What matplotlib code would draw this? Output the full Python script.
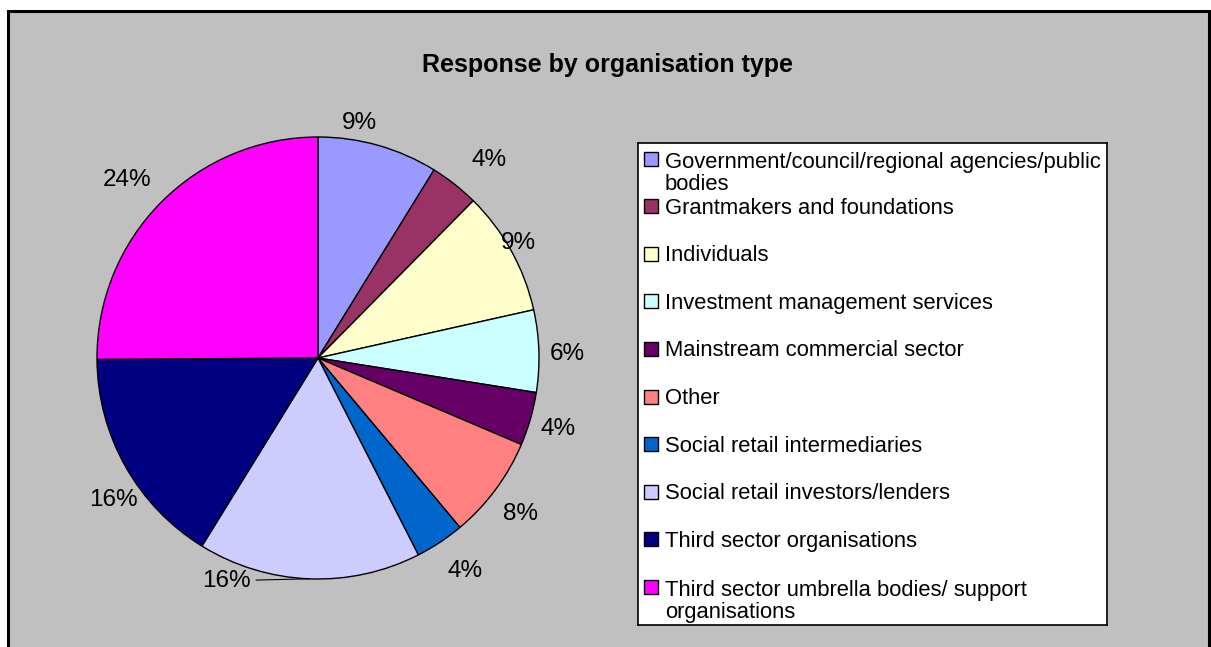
import numpy as np
import matplotlib
matplotlib.use("Agg")
import matplotlib.pyplot as plt
from matplotlib.patches import Rectangle

plt.rcParams['font.family'] = ['Liberation Sans', 'DejaVu Sans']

# data (share of pie, in %)
categories = ["Government/council/regional agencies/public\nbodies",
              "Grantmakers and foundations",
              "Individuals",
              "Investment management services",
              "Mainstream commercial sector",
              "Other",
              "Social retail intermediaries",
              "Social retail investors/lenders",
              "Third sector organisations",
              "Third sector umbrella bodies/ support\norganisations"]
shares = [8.8, 3.6, 9.1, 6.0, 3.9, 7.5, 3.6, 16.3, 16.1, 25.1]
pct_text = ["9%", "4%", "9%", "6%", "4%", "8%", "4%", "16%", "16%", "24%"]
colors = ["#9999FF", "#993366", "#FFFFCC", "#CCFFFF", "#660066",
          "#FF8080", "#0066CC", "#CCCCFF", "#000080", "#FF00FF"]

# label placement tweaks (degrees clockwise, radius in pie radii)
lab_shift = [-6, 2.3, -1.3, 0.4, 0, 0.5, -1.4, 20.3, -5, -1.5]
lab_r = [1.09, 1.19, 1.05, 1.13, 1.13, 1.15, 1.16, 1.08, 1.12, 1.19]

W, H = 1211, 647
fig = plt.figure(figsize=(W / 100, H / 100), dpi=100)
fig.patch.set_facecolor("white")

# background panel, pixel coords
bg = fig.add_axes([0, 0, 1, 1])
bg.set_xlim(0, W)
bg.set_ylim(H, 0)
bg.axis("off")
bg.add_patch(Rectangle((8, 11), 1201, 660, facecolor="#C0C0C0",
                       edgecolor="black", lw=2.2))
bg.text(608, 72.3, "Response by organisation type", ha="center",
        va="baseline", fontsize=18, fontweight="bold")

# pie
cx, cy, R = 318, 358, 221
half = 300
pax = fig.add_axes([(cx - half) / W, 1 - (cy + half) / H, 2 * half / W, 2 * half / H])
pax.patch.set_visible(False)
wedges, _ = pax.pie(shares, colors=colors, startangle=90, counterclock=False,
                    radius=1, wedgeprops=dict(edgecolor="black", linewidth=1))
lim = half / R
pax.set_xlim(-lim, lim)
pax.set_ylim(-lim, lim)
pax.axis("off")
for i, w in enumerate(wedges):
    mid = (w.theta1 + w.theta2) / 2
    ang = np.deg2rad(mid - lab_shift[i])
    tx, ty = lab_r[i] * np.cos(ang), lab_r[i] * np.sin(ang)
    if i == 7:
        m = np.deg2rad(mid)
        pax.annotate(pct_text[i], xy=(np.cos(m), np.sin(m)), xytext=(tx, ty),
                     ha="center", va="center_baseline", fontsize=17.5,
                     arrowprops=dict(arrowstyle="-", color="black", lw=0.8,
                                     shrinkA=2, shrinkB=0))
    else:
        pax.text(tx, ty, pct_text[i], ha="center", va="center_baseline",
                 fontsize=17.5)

# legend, pixel coords inside its box
lx0, ly0, lx1, ly1 = 638, 143, 1107, 625
lax = fig.add_axes([lx0 / W, 1 - ly1 / H, (lx1 - lx0) / W, (ly1 - ly0) / H])
lax.set_xlim(0, lx1 - lx0)
lax.set_ylim(ly1 - ly0, 0)
lax.set_facecolor("white")
lax.set_xticks([])
lax.set_yticks([])
for s in lax.spines.values():
    s.set_color("black")
    s.set_linewidth(1.2)
fs = 15.8
line_px = 24
for i, (lab, col) in enumerate(zip(categories, colors)):
    yc = 15.5 + 47.6 * i
    nl = lab.count("\n")
    lax.add_patch(Rectangle((6, yc - 7), 14, 14, facecolor=col,
                            edgecolor="black", lw=1))
    lax.text(27, yc + 7.5 + nl * line_px, lab, ha="left", va="baseline",
             fontsize=fs, linespacing=line_px / (fs * 100 / 72))

fig.savefig("out.png", dpi=100)
